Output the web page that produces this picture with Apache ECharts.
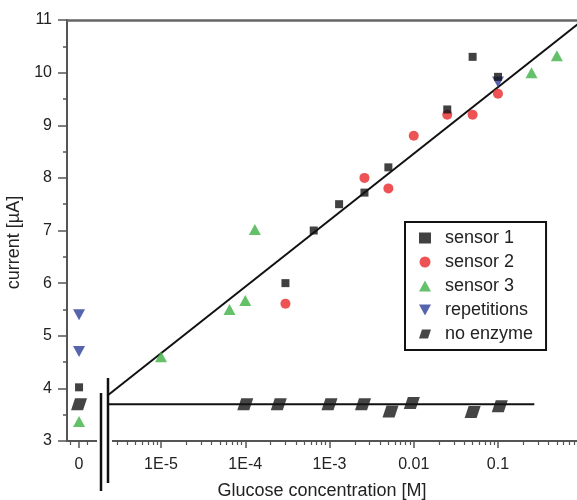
<!DOCTYPE html>
<html>
<head>
<meta charset="utf-8">
<script src="https://cdn.jsdelivr.net/npm/echarts@6/dist/echarts.min.js"></script>
<style>
  html, body { margin: 0; padding: 0; background: #fff; }
  #chart { width: 577px; height: 500px; }
</style>
</head>
<body>
<div id="chart"></div>
<script>
// glucose concentrations in M (0 = blank, drawn left of the axis break)
const s1Conc = [0, 3e-4, 6.5e-4, 1.3e-3, 2.6e-3, 5e-3, 0.025, 0.05, 0.1];
const s1Cur = [4.02, 6.0, 7.0, 7.5, 7.72, 8.2, 9.3, 10.3, 9.92];
const s2Conc = [3e-4, 2.6e-3, 5e-3, 0.01, 0.025, 0.05, 0.1];
const s2Cur = [5.61, 8.0, 7.8, 8.8, 9.2, 9.2, 9.6];
const s3Conc = [0, 1e-5, 6.5e-5, 1e-4, 1.3e-4, 0.25, 0.5];
const s3Cur = [3.37, 4.6, 5.5, 5.67, 7.02, 10.0, 10.32];
const repConc = [0, 0, 0.1];
const repCur = [5.4, 4.7, 9.82];
const noEnzConc = [0, 1e-4, 2.5e-4, 1e-3, 2.5e-3, 5.3e-3, 9.5e-3, 0.05, 0.105];
const noEnzCur = [3.7, 3.7, 3.7, 3.7, 3.7, 3.56, 3.72, 3.55, 3.66];
// fitted lines
const fitConc = [2.3e-6, 1];
const fitCur = [3.86, 10.99];
const baseConc = [2.3e-6, 0.27];
const baseCur = [3.7, 3.7];

const xTickConc = [0, 1e-5, 1e-4, 1e-3, 0.01, 0.1];
const xTickText = ['0', '1E-5', '1E-4', '1E-3', '0.01', '0.1'];

const ZERO_POS = -5.973; // axis position (log units) used for the blank
const X_MIN = -6.116;
const X_MAX = -0.062;

function lx(c) { return c === 0 ? ZERO_POS : Math.log10(c); }
function pts(xs, ys) { return xs.map((c, i) => [lx(c), ys[i]]); }

const majorVals = xTickConc.map(lx);
const minorVals = [ZERO_POS - 0.1, ZERO_POS + 0.1];
for (let e = -6; e <= -1; e++) {
  for (let k = 2; k <= 9; k++) {
    const v = Math.log10(k * Math.pow(10, e));
    if (v > -5.58 && v < X_MAX) minorVals.push(v);
  }
}

const parallelogram = 'path://M4,0 L16,0 L12,12 L0,12 Z';
const downTriangle = 'path://M0,0 L12,0 L6,11 Z';
const font = 'Liberation Sans, Arial, sans-serif';

const chart = echarts.init(document.getElementById('chart'));
chart.setOption({
  animation: false,
  grid: { left: 67, right: 0, top: 20, bottom: 59, containLabel: false, outerBoundsMode: 'none' },
  textStyle: { fontFamily: font },
  legend: {
    orient: 'vertical',
    left: 405,
    top: 222,
    padding: [7, 13, 7, 14],
    itemGap: 6,
    itemWidth: 12,
    itemHeight: 11,
    borderColor: '#111',
    borderWidth: 2,
    textStyle: { fontSize: 18, color: '#222', fontFamily: font, padding: [0, 0, 0, 9] },
    data: ['sensor 1', 'sensor 2', 'sensor 3', 'repetitions', 'no enzyme']
  },
  xAxis: [{
    type: 'value',
    min: X_MIN,
    max: X_MAX,
    name: 'Glucose concentration [M]',
    nameLocation: 'middle',
    nameGap: 41,
    nameTextStyle: { fontSize: 18, color: '#222' },
    axisLine: { lineStyle: { color: '#555', width: 2 } },
    axisTick: { customValues: majorVals, length: 7, lineStyle: { color: '#555', width: 1.5 } },
    axisLabel: {
      customValues: majorVals,
      margin: 16,
      fontSize: 16,
      color: '#222',
      formatter: v => xTickText[majorVals.findIndex(m => Math.abs(m - v) < 1e-6)]
    },
    splitLine: { show: false }
  }, {
    type: 'value',
    min: X_MIN,
    max: X_MAX,
    position: 'bottom',
    axisLine: { show: false },
    axisTick: { customValues: minorVals, length: 4, lineStyle: { color: '#555', width: 1.2 } },
    axisLabel: { show: false },
    splitLine: { show: false }
  }, {
    type: 'value',
    min: X_MIN,
    max: X_MAX,
    position: 'top',
    axisLine: { lineStyle: { color: '#666', width: 2.5 } },
    axisTick: { show: false },
    axisLabel: { show: false },
    splitLine: { show: false }
  }],
  yAxis: {
    type: 'value',
    min: 3,
    max: 11,
    interval: 1,
    name: 'current [\u00b5A]',
    nameLocation: 'middle',
    nameGap: 31,
    nameTextStyle: { fontSize: 18, color: '#222', padding: [0, 24, 0, 0] },
    axisLine: { show: true, lineStyle: { color: '#555', width: 2 } },
    axisTick: { length: 9, lineStyle: { color: '#555', width: 1.5 } },
    minorTick: { show: true, splitNumber: 2, length: 4, lineStyle: { color: '#555', width: 1.5 } },
    axisLabel: { margin: 15, fontSize: 16, color: '#222' },
    splitLine: { show: false }
  },
  series: [
    {
      name: 'fit', type: 'line', data: pts(fitConc, fitCur), symbol: 'none',
      lineStyle: { color: '#111', width: 2 }, z: 1, silent: true
    },
    {
      name: 'baseline', type: 'line', data: pts(baseConc, baseCur), symbol: 'none',
      lineStyle: { color: '#111', width: 2 }, z: 1, silent: true
    },
    {
      name: 'no enzyme', type: 'scatter', data: pts(noEnzConc, noEnzCur),
      symbol: parallelogram, symbolSize: [16, 12], itemStyle: { color: '#161616' }, z: 2
    },
    {
      name: 'repetitions', type: 'scatter', data: pts(repConc, repCur),
      symbol: downTriangle, symbolSize: [12, 11], itemStyle: { color: '#2b3d99' }, z: 3
    },
    {
      name: 'sensor 3', type: 'scatter', data: pts(s3Conc, s3Cur),
      symbol: 'triangle', symbolSize: [12, 11], itemStyle: { color: '#3db043' }, z: 3
    },
    {
      name: 'sensor 2', type: 'scatter', data: pts(s2Conc, s2Cur),
      symbol: 'circle', symbolSize: 10, itemStyle: { color: '#e8272b' }, z: 4
    },
    {
      name: 'sensor 1', type: 'scatter', data: pts(s1Conc, s1Cur),
      symbol: 'rect', symbolSize: 8, itemStyle: { color: '#111' }, z: 5
    }
  ],
  graphic: [
    { type: 'rect', shape: { x: 97, y: 435, width: 15, height: 12 }, style: { fill: '#fff' }, z: 100 },
    { type: 'line', shape: { x1: 101, y1: 393, x2: 101, y2: 491 }, style: { stroke: '#111', lineWidth: 2.5 }, z: 101 },
    { type: 'line', shape: { x1: 108, y1: 378, x2: 108, y2: 483 }, style: { stroke: '#111', lineWidth: 2.5 }, z: 101 }
  ]
});
</script>
</body>
</html>
